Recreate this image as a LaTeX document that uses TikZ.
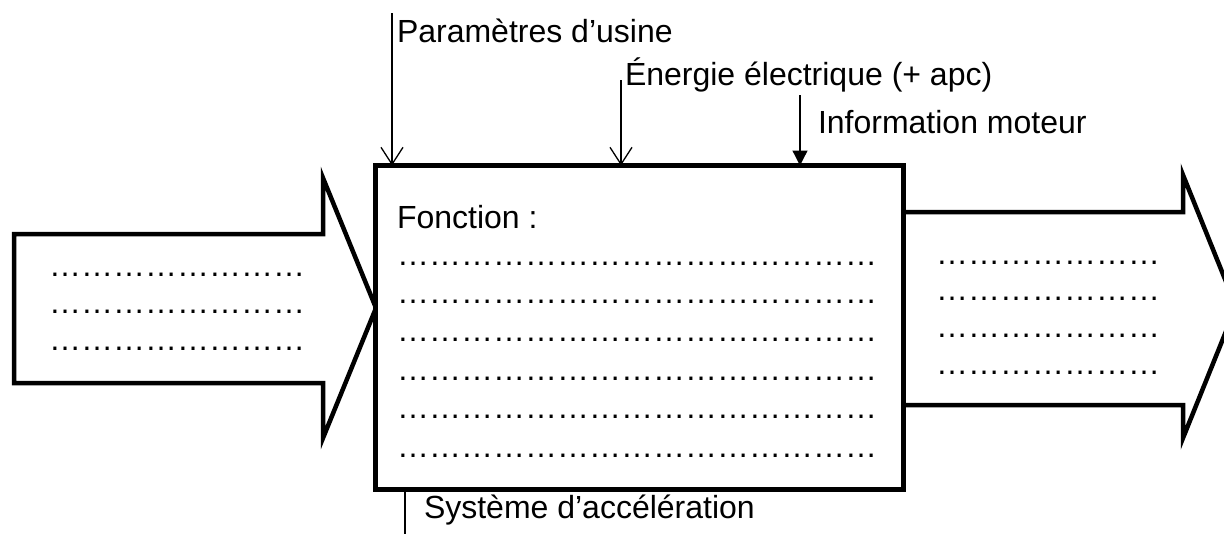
\documentclass[tikz,border=0pt]{standalone}
\usepackage{fontspec}
\setmainfont{Liberation Sans}
\usetikzlibrary{arrows.meta}
\newcommand\mydots[1]{\foreach \j in {1,...,#1}{…}}
\tikzset{
  lbl/.style={anchor=base west, inner sep=0pt, outer sep=0pt, font=\fontsize{32}{38}\selectfont},
  fatline/.style={line width=4.5pt, line join=miter},
  thinline/.style={line width=1.3pt},
  vtip/.style={-{Straight Barb[length=17pt,width=22pt,line width=1.3pt]}},
  ftip/.style={-{Triangle[length=15pt,width=15pt]}},
  boxstyle/.style={draw, fill=white, line width=5pt, inner sep=0pt, outer sep=0pt,
    minimum width=527.5pt, minimum height=323.5pt}
}
\begin{document}
\begin{tikzpicture}[x=1pt,y=-1pt]
\clip (0,0) rectangle (1224,533);
\fill[white] (0,0) rectangle (1224,533);
% input arrow
\draw[fatline] (14,234) -- (323,234) -- (323,178) -- (376,308) -- (323,438) -- (323,383) -- (14,383) -- cycle;
% output arrow
\draw[fatline] (903,212) -- (1183,212) -- (1183,175) -- (1236,306.5) -- (1183,438) -- (1183,405) -- (903,405);
% main box
\node[boxstyle] (fn) at (639.25,327.25) {};
% dots in arrows
\foreach \y [count=\i] in {276,313,350}
  \node[lbl] (in\i) at (49,\y) {\mydots{8}};
\foreach \y [count=\i] in {264,300,337,374}
  \node[lbl] (out\i) at (936,\y) {\mydots{7}};
% function text
\node[lbl] (fonc) at (397,228) {Fonction :};
\foreach \k in {0,...,5}
  \node[lbl] (d\k) at (397,265+38.4*\k) {\mydots{15}};
% control inputs
\coordinate (p0) at (392,13);
\coordinate (e0) at (621,80);
\coordinate (i0) at (800,95);
\coordinate (s0) at (405,540);
\draw[thinline,vtip] (p0) -- (p0 |- fn.north);
\draw[thinline,vtip] (e0) -- (e0 |- fn.north);
\draw[thinline,ftip] (i0) -- (i0 |- fn.north);
\draw[thinline] (s0 |- fn.south) -- (s0);
\node[lbl] (par) at (397,42) {Paramètres d’usine};
\node[lbl] (ene) at (625,85) {Énergie électrique (+ apc)};
\node[lbl] (inf) at (818,133) {Information moteur};
\node[lbl] (sys) at (424,518) {Système d’accélération};
\end{tikzpicture}
\end{document}
